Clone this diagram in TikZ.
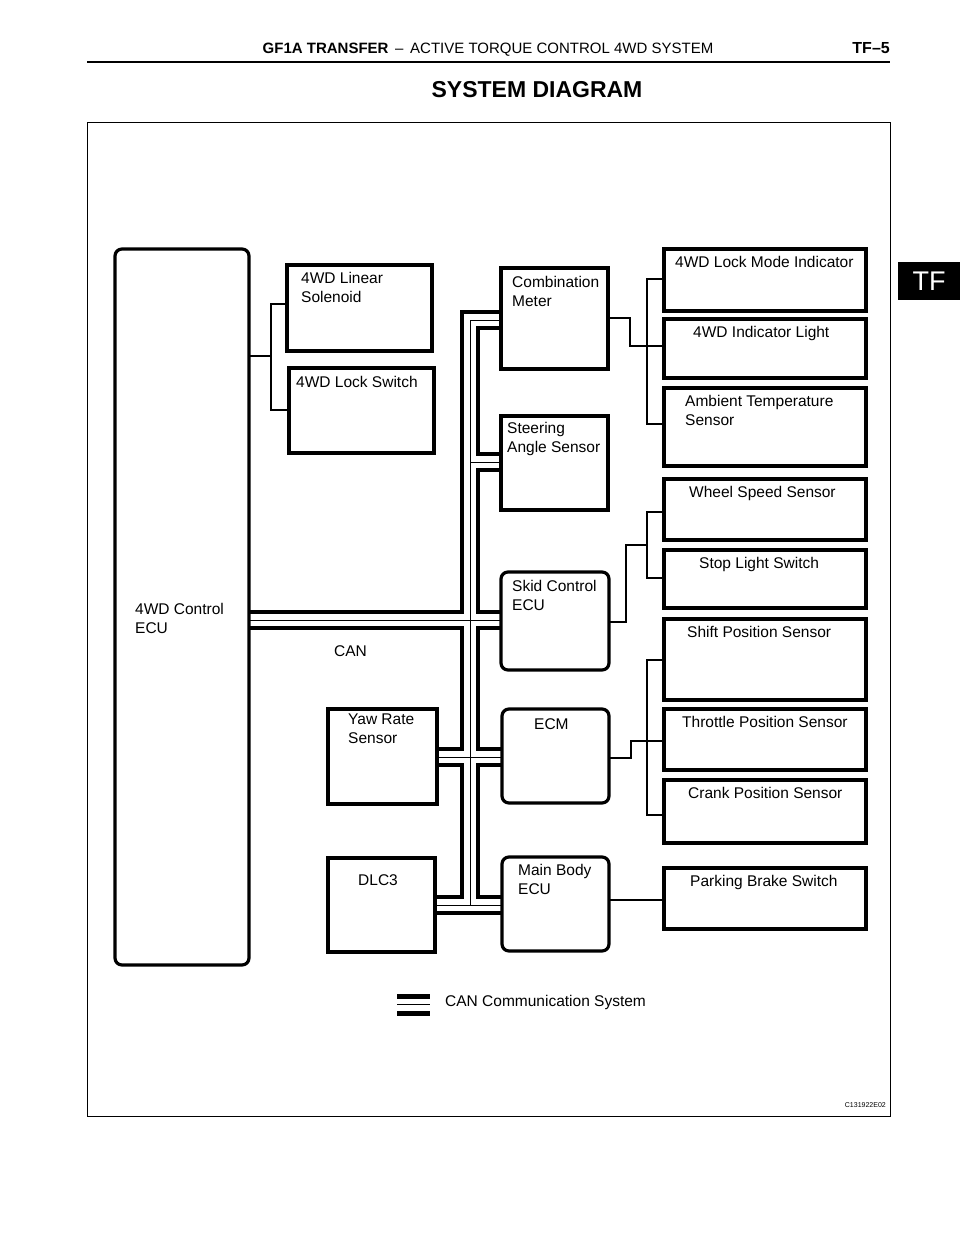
\documentclass[tikz,border=0pt]{standalone}
\usepackage{fontspec}
\setmainfont{Liberation Sans}
\begin{document}
\begin{tikzpicture}[x=1pt,y=-1pt,
  box/.style={draw,line width=3.2pt},
  rbox/.style={draw,line width=3.2pt,rounded corners=7pt},
  lbl/.style={anchor=north west,inner sep=0pt,align=left,font=\fontsize{15.5}{19}\selectfont},
  wire/.style={line width=1.1pt}]
\useasboundingbox (0,0) rectangle (960,1242);
% header
\node[anchor=base,inner sep=0pt,font=\fontsize{15}{18}\selectfont] (hdr) at (488,53) {\textbf{GF1A TRANSFER} \,–\, ACTIVE TORQUE CONTROL 4WD SYSTEM};
\node[anchor=base east,inner sep=0pt,font=\bfseries\fontsize{16}{18}\selectfont] (pg) at (890,53) {TF–5};
\draw[line width=2pt] (87,62) -- (890,62);
\node[anchor=base,inner sep=0pt,font=\bfseries\fontsize{23}{26}\selectfont] (title) at (537,97) {SYSTEM DIAGRAM};
\fill (898,262) rectangle (960,300);
\node[text=white,inner sep=0pt,font=\fontsize{27}{30}\selectfont] (tab) at (929,281) {TF};
\draw[line width=0.8pt] (87,122) rectangle (890,1116);
% CAN bus
\foreach \w/\c in {20/black,12/white,1/black}{
  \draw[line width=\w pt,\c] (501,320) -- (470,320) -- (470,905) -- (502,905);
  \draw[line width=\w pt,\c] (249,620) -- (501,620);
  \draw[line width=\w pt,\c] (438,757) -- (502,757);
  \draw[line width=\w pt,\c] (470,462) -- (501,462);
  \draw[line width=\w pt,\c] (437,905) -- (470,905);
}
% boxes
\draw[rbox,fill=white] (115,249) rectangle (249,965);
\node[lbl] (ecu4) at (135,603) {4WD Control\\ECU};
\draw[box,fill=white] (287,265) rectangle (432,351);
\node[lbl] (sol) at (301,272) {4WD Linear\\Solenoid};
\draw[box,fill=white] (289,368) rectangle (434,453);
\node[lbl] (lsw) at (296,376) {4WD Lock Switch};
\draw[box,fill=white] (501,268) rectangle (608,369);
\node[lbl] (cm) at (512,276) {Combination\\Meter};
\draw[box,fill=white] (501,416) rectangle (608,510);
\node[lbl] (sas) at (507,422) {Steering\\Angle Sensor};
\draw[rbox,fill=white] (501,572) rectangle (609,670);
\node[lbl] (skid) at (512,580) {Skid Control\\ECU};
\draw[box,fill=white] (328,709) rectangle (437,804);
\node[lbl] (yaw) at (348,714) {Yaw Rate\\Sensor};
\draw[rbox,fill=white] (502,709) rectangle (609,803);
\node[lbl] (ecm) at (534,718) {ECM};
\draw[box,fill=white] (328,858) rectangle (435,952);
\node[lbl] (dlc) at (358,874) {DLC3};
\draw[rbox,fill=white] (502,857) rectangle (609,951);
\node[lbl] (mb) at (518,864) {Main Body\\ECU};
% right column
\foreach \ya/\yb/\tx/\t in {249/311/675/4WD Lock Mode Indicator,319/378/693/4WD Indicator Light,388/466/685/{Ambient Temperature\\Sensor},479/540/689/Wheel Speed Sensor,550/608/699/Stop Light Switch,619/700/687/Shift Position Sensor,709/770/682/Throttle Position Sensor,780/843/688/Crank Position Sensor,868/929/690/Parking Brake Switch}{
  \draw[box] (664,\ya) rectangle (866,\yb);
  \node[lbl] at (\tx,\ya+7) {\t};
}
% thin wires
\draw[wire] (249,356) -- (271,356);
\draw[wire] (287,304) -- (271,304) -- (271,410) -- (289,410);
\draw[wire] (608,318) -- (630,318) -- (630,346) -- (664,346);
\draw[wire] (664,279) -- (647,279) -- (647,424) -- (664,424);
\draw[wire] (609,622) -- (626,622) -- (626,545) -- (647,545);
\draw[wire] (664,512) -- (647,512) -- (647,578) -- (664,578);
\draw[wire] (609,758) -- (631,758) -- (631,741) -- (664,741);
\draw[wire] (664,660) -- (647,660) -- (647,815) -- (664,815);
\draw[wire] (609,900) -- (664,900);
% labels
\node[lbl] (can) at (334,645) {CAN};
\draw[line width=5pt] (397,996) -- (430,996);
\draw[line width=1pt] (397,1004) -- (430,1004);
\draw[line width=5pt] (397,1013) -- (430,1013);
\node[lbl] (leg) at (445,995) {CAN Communication System};
\node[anchor=east,inner sep=0pt,font=\fontsize{7}{8}\selectfont] (code) at (886,1105) {C131922E02};
\end{tikzpicture}
\end{document}
